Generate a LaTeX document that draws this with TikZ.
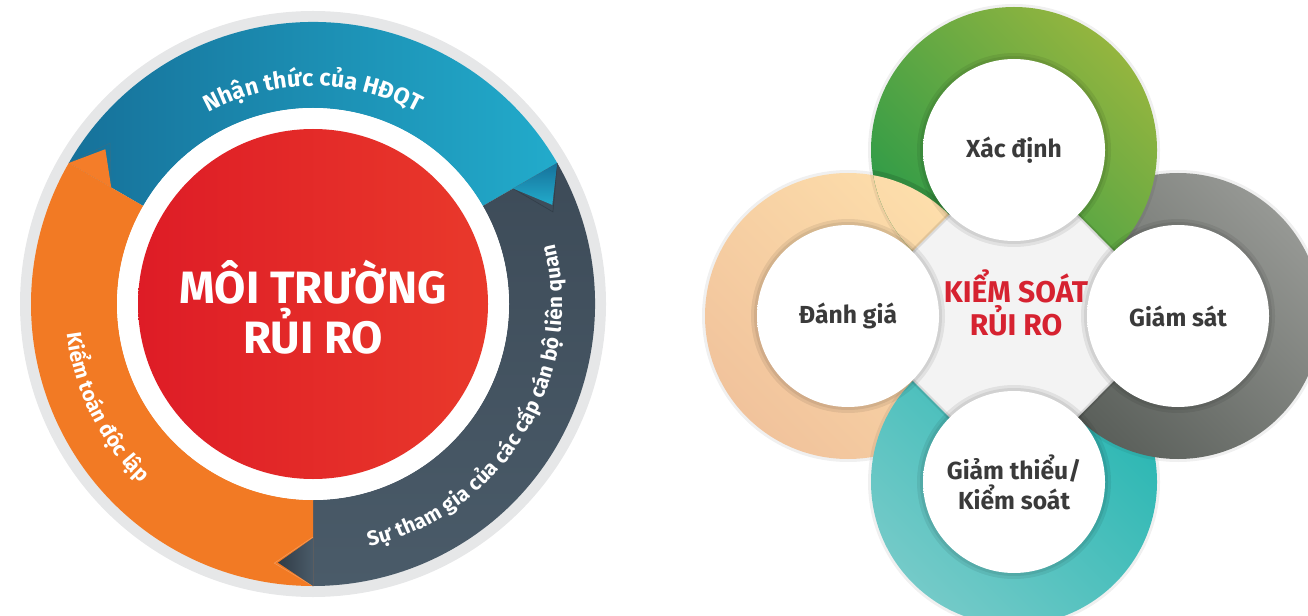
\documentclass[tikz,border=0pt]{standalone}
\usepackage{fontspec}
\setmainfont{Fira Sans}
\usetikzlibrary{decorations.text}

\definecolor{rimgray}{HTML}{E6E7E8}
\definecolor{boardA}{HTML}{16719A}
\definecolor{boardB}{HTML}{22ABCB}
\definecolor{staffA}{HTML}{3D4B58}
\definecolor{staffB}{HTML}{4A5B69}
\definecolor{auditA}{HTML}{F27A24}
\definecolor{auditB}{HTML}{F47D29}
\definecolor{envA}{HTML}{DE1C26}
\definecolor{envB}{HTML}{E9392B}
\definecolor{identA}{HTML}{94B53F}
\definecolor{identB}{HTML}{2A9A48}
\definecolor{assessA}{HTML}{FDDEAB}
\definecolor{assessB}{HTML}{F1C39C}
\definecolor{monitorA}{HTML}{969894}
\definecolor{monitorB}{HTML}{5A5F5A}
\definecolor{mitigA}{HTML}{27B6B2}
\definecolor{mitigB}{HTML}{74CAC8}
\definecolor{hubgray}{HTML}{F3F3F3}
\definecolor{controlred}{HTML}{D62230}
\definecolor{balltext}{HTML}{3A3A3A}

\pgfdeclareradialshading{whiteball}{\pgfpoint{-3bp}{3bp}}{color(0bp)=(white); color(32bp)=(white); color(45bp)=(black!7); color(50bp)=(black!22)}

\tikzset{
  ball/.style={circle, minimum size=136.5pt, inner sep=0pt, shading=whiteball,
    text=balltext, font=\fontsize{18.5}{22.5}\selectfont\bfseries, align=center},
  ringshadow/.style={fill=black, opacity=0.06},
  bigtitle/.style={anchor=base, text=white, font=\fontsize{34}{38}\selectfont\bfseries},
  hubtitle/.style={anchor=base, text=controlred, font=\fontsize{22.5}{26}\selectfont\bfseries}
}

\begin{document}
\begin{tikzpicture}[x=0.75pt,y=-0.75pt]
\useasboundingbox (0,0) rectangle (1308,616);
\clip (0,0) rectangle (1308,616);

%Left wheel, centred at (313,304)
\begin{scope}[shift={(313,304)}]
%Shape: Circle (rim)
\fill[rimgray] (0,0) circle[radius=293];
%Shape: Band (board)
\shade[left color=boardA, right color=boardB] (210:282) arc[start angle=210, end angle=330, radius=282] -- (330:196) arc[start angle=330, end angle=210, radius=196] -- cycle;
%Shape: Band (staff)
\shade[top color=staffA, bottom color=staffB] (330:282) arc[start angle=330, end angle=450, radius=282] -- (90:196) arc[start angle=90, end angle=-30, radius=196] -- cycle;
%Shape: Band (audit)
\fill[auditA] (90:282) arc[start angle=90, end angle=210, radius=282] -- (210:196) arc[start angle=210, end angle=90, radius=196] -- cycle;
%Shape: Flaps
\draw[black!60, opacity=0.35, line width=0.4pt] (210:282) -- (218.4:259) -- (210:233);
\fill[auditB] (210:282) -- (216.7:259) -- (210:233) -- cycle;
\draw[staffA!70!black, opacity=0.6, line width=0.5pt] (330:282) -- (339:257) -- (330:231);
\shade[top color=boardA, bottom color=boardB] (330:282) -- (337.5:259) -- (330:231) -- cycle;
\draw[auditB!60!white, opacity=0.6, line width=0.4pt] (90:282) -- (98.5:262) -- (90:233);
\shade[left color=staffA!80!black, right color=staffB] (90:282) -- (97.7:261) -- (90:234) -- cycle;
%Shape: Circle (core)
\fill[white] (0,0) circle[radius=196];
\shade[left color=envA, right color=envB] (0,0) circle[radius=175];

% Text Node
\node[bigtitle] (envtop) at (0,0) {MÔI TRƯỜNG};
\node[bigtitle] (envbot) at (0,49) {RỦI RO};

% Text along the bands
\path[decorate, decoration={text along path, text align=center,
  text={|\fontsize{17.5}{20}\selectfont\bfseries\color{white}|Nhận thức của HĐQT}}]
  (205:218) arc[start angle=205, end angle=335, radius=218];
\path[decorate, decoration={text along path, text align={fit to path},
  text={|\fontsize{15.5}{18}\selectfont\bfseries\color{white}|Sự tham gia của các cấp cán bộ liên quan}}]
  (77:249) arc[start angle=77, end angle=-14, radius=249];
\path[decorate, decoration={text along path, text align=center,
  text={|\fontsize{15.5}{18}\selectfont\bfseries\color{white}|Kiểm toán độc lập}}]
  (198:248) arc[start angle=198, end angle=109, radius=248];
\end{scope}

%Right flower
\coordinate (T) at (1014,150);
\coordinate (L) at (848,316);
\coordinate (R) at (1178,316);
\coordinate (B) at (1014,482);

%Shape: Rings
\fill[ringshadow] (L) circle[radius=146];
\shade[top color=assessA, bottom color=assessB, shading angle=-45] (L) circle[radius=143];
\fill[ringshadow] (B) circle[radius=146];
\shade[top color=mitigA, bottom color=mitigB, shading angle=-45] (B) circle[radius=143];
\fill[ringshadow] (R) circle[radius=146];
\shade[top color=monitorA, bottom color=monitorB, shading angle=-45] (R) circle[radius=143];
\fill[ringshadow] (T) circle[radius=146];
\shade[top color=identA, bottom color=identB, shading angle=-45] (T) circle[radius=143];
% peach ring goes back over the green one
\begin{scope}
\clip (T) circle[radius=143];
\fill[black, opacity=0.12] (L) circle[radius=148];
\shade[top color=assessA, bottom color=assessB, shading angle=-45] (L) circle[radius=143];
\end{scope}

%Shape: Square (hub)
\fill[hubgray] (T) -- (R) -- (B) -- (L) -- cycle;
\draw[black, opacity=0.1, line width=3pt] (T) -- (R) -- (B) -- (L) -- cycle;

% Text Node
\node[hubtitle] (hubtop) at (1016,302) {KIỂM SOÁT};
\node[hubtitle] (hubbot) at (1016,335) {RỦI RO};

%Shape: Circle shadows
\fill[black, opacity=0.07] (T) circle[radius=97];
\fill[black, opacity=0.07] (T) circle[radius=94];
\fill[black, opacity=0.07] (L) circle[radius=97];
\fill[black, opacity=0.07] (L) circle[radius=94];
\fill[black, opacity=0.07] (R) circle[radius=97];
\fill[black, opacity=0.07] (R) circle[radius=94];
\fill[black, opacity=0.07] (B) circle[radius=97];
\fill[black, opacity=0.07] (B) circle[radius=94];

%Shape: Circles
\node[ball] (ident) at (T) {Xác định};
\node[ball] (assess) at (L) {Đánh giá};
\node[ball] (monitor) at (R) {Giám sát};
\node[ball] (mitig) at (B) {Giảm thiểu/\\Kiểm soát};

\end{tikzpicture}
\end{document}
